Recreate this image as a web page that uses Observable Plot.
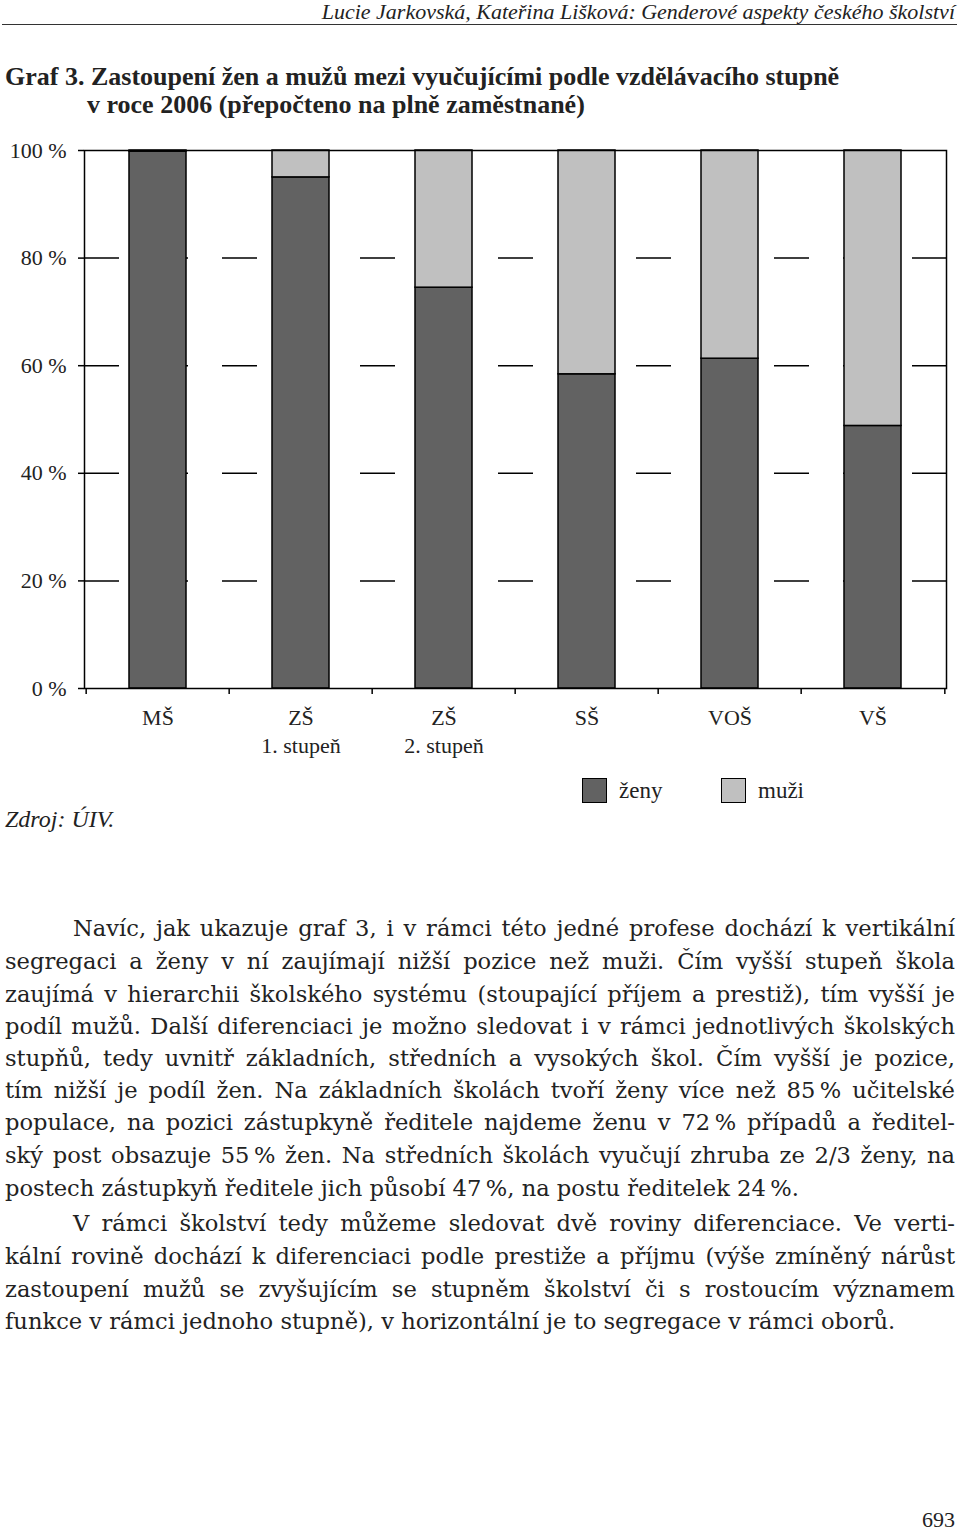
<!DOCTYPE html>
<html>
<head>
<meta charset="utf-8">
<script src="https://cdn.jsdelivr.net/npm/d3@7"></script>
<script src="https://cdn.jsdelivr.net/npm/@observablehq/plot@0.6"></script>
<style>
  html, body { margin:0; padding:0; background:#fff; }
  body { width:960px; height:1533px; position:relative; font-family:"Liberation Serif", serif; color:#222; overflow:hidden; }
  .abs { position:absolute; white-space:nowrap; }
  #header { right:5px; top:0px; font-style:italic; font-size:22px; line-height:24px; }
  #rule { left:2px; width:955px; top:24px; height:0; border-top:1.5px solid #333; }
  #title { left:5px; top:63px; font-weight:bold; font-size:26px; line-height:28px; }
  #title .l2 { padding-left:82px; }
  #chart { left:0; top:140px; }
  .legitem { position:absolute; top:776px; font-size:23px; white-space:nowrap; }
  .sw { display:inline-block; width:23px; height:23px; border:1.5px solid #000; vertical-align:middle; }
  .lg { display:inline-block; vertical-align:middle; margin-left:12px; }
  #source { left:5px; top:805px; font-style:italic; font-size:24px; line-height:28px; }
  .ln { position:absolute; left:5px; width:950px; height:32px; line-height:32px; font-family:"DejaVu Serif", serif; font-size:22.6px; white-space:nowrap; text-align:justify; text-align-last:justify; }
  .ln.first { left:73px; width:882px; }
  .ln.last { text-align:left; text-align-last:left; }
  #page { right:5px; top:1506px; font-size:22px; line-height:28px; }
</style>
</head>
<body>
<div id="header" class="abs">Lucie Jarkovská, Kateřina Lišková: Genderové aspekty českého školství</div>
<div id="rule" class="abs"></div>
<div id="title" class="abs">Graf 3. Zastoupení žen a mužů mezi vyučujícími podle vzdělávacího stupně<br><span class="l2">v roce 2006 (přepočteno na plně zaměstnané)</span></div>
<div id="chart" class="abs"></div>
<div id="legend"></div>
<div id="source" class="abs">Zdroj: ÚIV.</div>
<div id="text"></div>
<div id="page" class="abs">693</div>
<script>
// ---- data ----
const categories = ["MŠ", "ZŠ\n1. stupeň", "ZŠ\n2. stupeň", "SŠ", "VOŠ", "VŠ"];
const women = [99.8, 95.0, 74.5, 58.4, 61.3, 48.8];
const men = [0.2, 5.0, 25.5, 41.6, 38.7, 51.2];
const seriesNames = ["ženy", "muži"];
const seriesColors = ["#626262", "#c0c0c0"];
const yTicks = [0, 20, 40, 60, 80, 100];
const gridTicks = [20, 40, 60, 80];

const paragraphLines = [
  ["first", "Navíc, jak ukazuje graf 3, i v rámci této jedné profese dochází k vertikální"],
  ["", "segregaci a ženy v ní zaujímají nižší pozice než muži. Čím vyšší stupeň škola"],
  ["", "zaujímá v hierarchii školského systému (stoupající příjem a prestiž), tím vyšší je"],
  ["", "podíl mužů. Další diferenciaci je možno sledovat i v rámci jednotlivých školských"],
  ["", "stupňů, tedy uvnitř základních, středních a vysokých škol. Čím vyšší je pozice,"],
  ["", "tím nižší je podíl žen. Na základních školách tvoří ženy více než 85\u202F% učitelské"],
  ["", "populace, na pozici zástupkyně ředitele najdeme ženu v 72\u202F% případů a ředitel-"],
  ["", "ský post obsazuje 55\u202F% žen. Na středních školách vyučují zhruba ze 2/3 ženy, na"],
  ["last", "postech zástupkyň ředitele jich působí 47\u202F%, na postu ředitelek 24\u202F%."],
  ["first", "V rámci školství tedy můžeme sledovat dvě roviny diferenciace. Ve verti-"],
  ["", "kální rovině dochází k diferenciaci podle prestiže a příjmu (výše zmíněný nárůst"],
  ["", "zastoupení mužů se zvyšujícím se stupněm školství či s rostoucím významem"],
  ["last", "funkce v rámci jednoho stupně), v horizontální je to segregace v rámci oborů."]
];
const lineCenters = [928, 961, 994, 1026, 1058, 1090, 1122, 1155, 1188, 1223, 1256, 1289, 1321];

// ---- table ----
const data = [];
categories.forEach((c, i) => {
  data.push({cat: c, series: seriesNames[0], value: women[i]});
  data.push({cat: c, series: seriesNames[1], value: men[i]});
});

const W = 960, ML = 84, MR = 14;
const step = (W - ML - MR) / categories.length;

const chart = Plot.plot({
  width: W,
  height: 620,
  marginTop: 10,
  marginBottom: 72,
  marginLeft: ML,
  marginRight: MR,
  style: {fontFamily: "Liberation Serif, serif", fontSize: "22px", color: "#222", background: "transparent", overflow: "visible"},
  x: {domain: categories, paddingInner: 0.6, paddingOuter: 0.3, axis: null},
  y: {domain: [0, 100], axis: null},
  color: {domain: seriesNames, range: seriesColors},
  marks: [
    Plot.ruleY(gridTicks, {stroke: "#000", strokeWidth: 1.5, strokeDasharray: "35,34"}),
    Plot.barY(data, Plot.stackY({x: "cat", y: "value", fill: "series", stroke: "#000", strokeWidth: 1.5})),
    Plot.frame({stroke: "#000", strokeWidth: 1.5}),
    Plot.axisY({ticks: yTicks, tickSize: 6, tickPadding: 12, label: null, tickFormat: d => d + " %", stroke: "#000", strokeWidth: 1.5, fill: "#222"}),
    Plot.axisX({tickSize: 0, tickPadding: 17, label: null, lineHeight: 1.25, fill: "#222"}),
    Plot.ruleX(categories, {x: d => d, dx: -step / 2, y1: 0, y2: 0, insetBottom: -6, stroke: "#000", strokeWidth: 1.5}),
    Plot.ruleX(categories.slice(-1), {x: d => d, dx: step / 2, y1: 0, y2: 0, insetBottom: -6, stroke: "#000", strokeWidth: 1.5})
  ]
});
document.getElementById("chart").appendChild(chart);

// legend
const legend = document.getElementById("legend");
const legendLefts = [582, 721];
seriesNames.forEach((s, i) => {
  const item = document.createElement("div");
  item.className = "legitem";
  item.style.left = legendLefts[i] + "px";
  item.innerHTML = `<span class="sw" style="background:${seriesColors[i]}"></span><span class="lg">${s}</span>`;
  legend.appendChild(item);
});

// body text
const textDiv = document.getElementById("text");
paragraphLines.forEach(([cls, t], i) => {
  const d = document.createElement("div");
  d.className = "ln " + cls;
  d.style.top = (lineCenters[i] - 16) + "px";
  d.textContent = t;
  textDiv.appendChild(d);
});
</script>
</body>
</html>
